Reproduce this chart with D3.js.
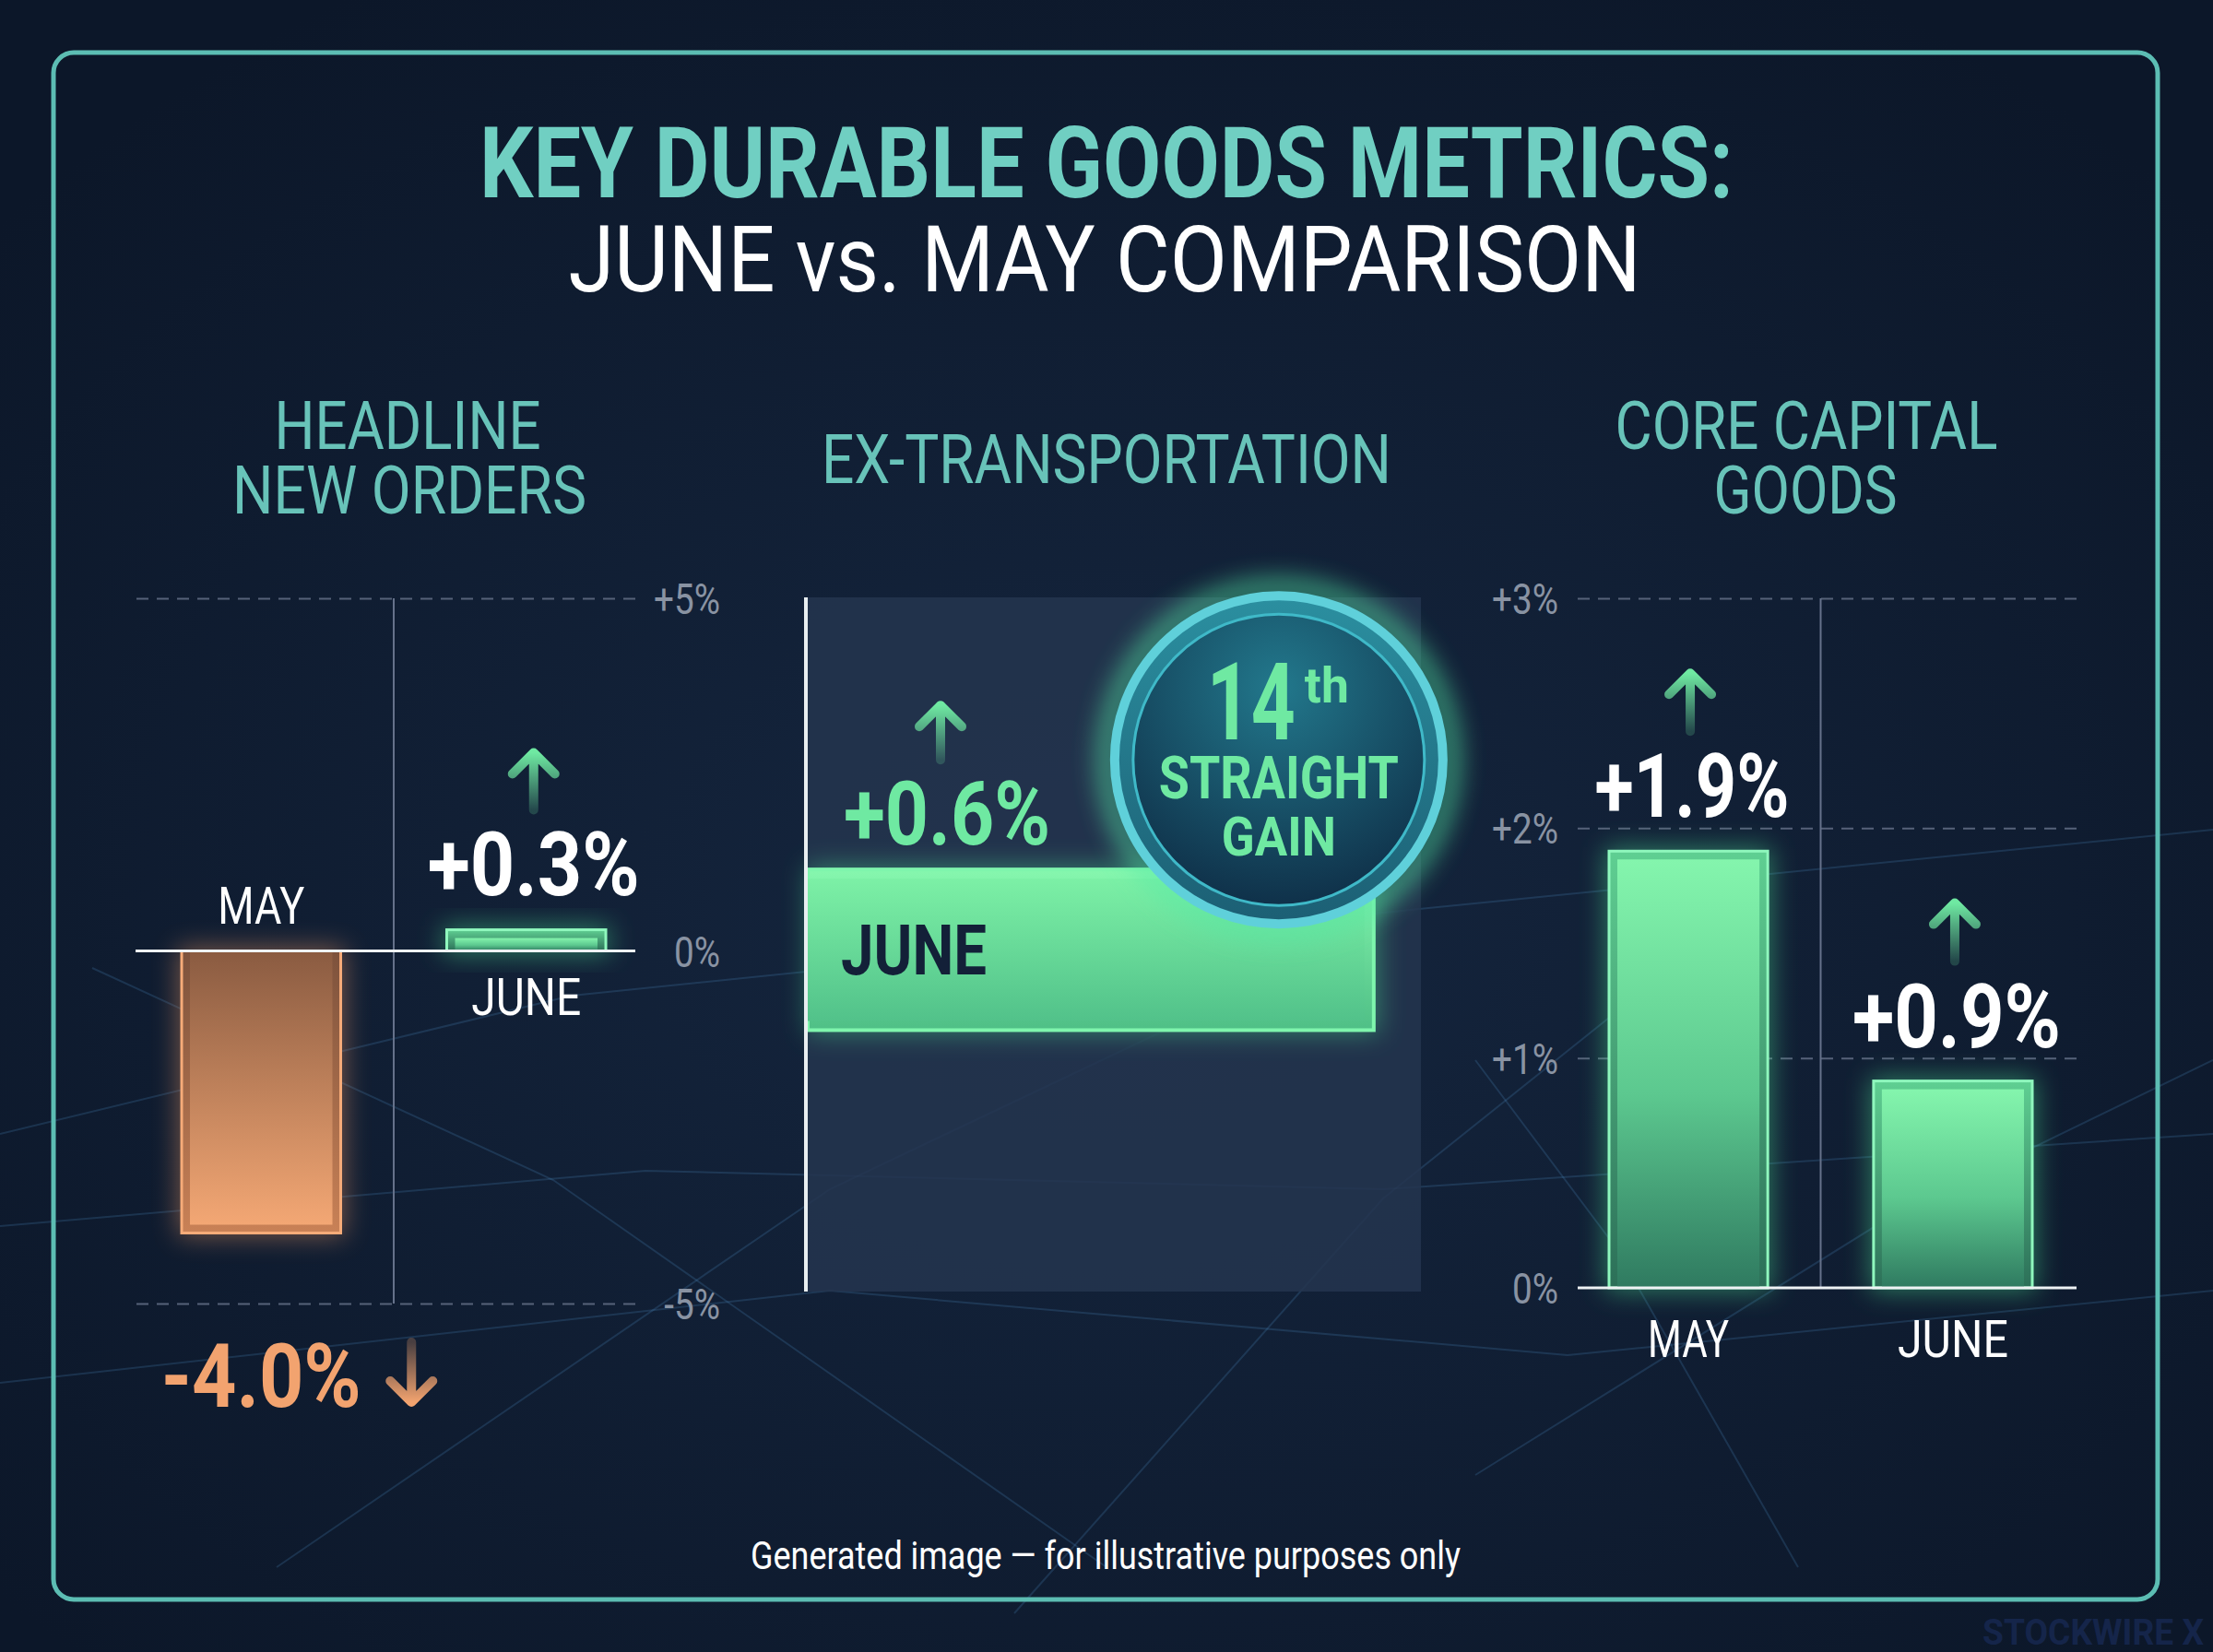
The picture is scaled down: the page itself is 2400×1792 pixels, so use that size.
<!DOCTYPE html>
<html>
<head>
<meta charset="utf-8">
<title>Key Durable Goods Metrics</title>
<script src="https://cdn.jsdelivr.net/npm/d3@7/dist/d3.min.js"></script>
<style>
  html, body { margin: 0; background: #0d1829; }
  svg { display: block; }
</style>
</head>
<body>
<svg id="chart" width="2400" height="1792"></svg>
<script>
// values
const months = ['MAY', 'JUNE']
const headlineValues = [-4.0, 0.3]
const exTransMonths = ['JUNE']
const exTransValues = [0.6]
const coreCapValues = [1.9, 0.9]
const headlineTicks = [5, 0, -5]
const coreCapTicks = [3, 2, 1, 0]
const streakCount = 14
const titleLines = ['KEY DURABLE GOODS METRICS:', 'JUNE vs. MAY COMPARISON']
const panelTitles = [['HEADLINE', 'NEW ORDERS'], ['EX-TRANSPORTATION'], ['CORE CAPITAL', 'GOODS']]
const footnote = 'Generated image \u2014 for illustrative purposes only'

const FONT = 'Roboto, "Noto Sans", "DejaVu Sans", sans-serif'
const fmtVal = v => d3.format('+.1f')(v).replace('\u2212', '-') + '%'
const fmtTick = v => (v > 0 ? '+' : '') + v + '%'

const svg = d3.select('#chart')
const defs = svg.append('defs')

function linGrad(id, stops, x2 = 0, y2 = 1) {
  const g = defs.append('linearGradient').attr('id', id)
    .attr('x1', 0).attr('y1', 0).attr('x2', x2).attr('y2', y2)
  stops.forEach(s => g.append('stop').attr('offset', s[0]).attr('stop-color', s[1]).attr('stop-opacity', s[2] ?? 1))
}
linGrad('greenOuter', [[0, '#5fcf92'], [1, '#2c6f58']])
linGrad('greenInner', [[0, '#84f5ad'], [0.55, '#5cc88f'], [1, '#2f7a60']])
linGrad('greenH', [[0, '#86f7ae'], [1, '#4fbf86']])
linGrad('greenHin', [[0, '#7cf0a6'], [1, '#52c28a']])
linGrad('orangeOuter', [[0, '#7d523c'], [1, '#c98156']])
linGrad('orangeInner', [[0, '#8a5b41'], [1, '#f3a774']])
linGrad('arrowUp', [[0, '#6fe9a2', 1], [1, '#6fe9a2', 0.2]])
linGrad('arrowDown', [[0, '#f2a36f', 0.25], [1, '#f2a36f', 1]])
linGrad('badgeBand', [[0, '#2b8fa0'], [1, '#1c5f74']])

const bf = defs.append('radialGradient').attr('id', 'badgeFill').attr('cx', '50%').attr('cy', '25%').attr('r', '80%')
bf.append('stop').attr('offset', 0).attr('stop-color', '#22788c')
bf.append('stop').attr('offset', 1).attr('stop-color', '#0e2c45')

const bg = defs.append('radialGradient').attr('id', 'bgFill').attr('cx', '50%').attr('cy', '55%').attr('r', '65%')
bg.append('stop').attr('offset', 0).attr('stop-color', '#15263f')
bg.append('stop').attr('offset', 1).attr('stop-color', '#0c1729')

defs.append('filter').attr('id', 'blur').attr('x', '-60%').attr('y', '-60%').attr('width', '220%').attr('height', '220%')
  .append('feGaussianBlur').attr('stdDeviation', 14)

function txt(g, s, x, y, size, fill, o = {}) {
  const t = g.append('text')
    .attr('x', x).attr('y', y)
    .attr('text-anchor', o.anchor || 'middle')
    .attr('font-family', FONT)
    .attr('font-size', size)
    .attr('font-weight', o.weight || 400)
    .attr('fill', fill)
    .text(s)
  if (o.w) t.attr('textLength', o.w).attr('lengthAdjust', 'spacingAndGlyphs')
  return t
}

function arrow(g, cx, top, bottom, up) {
  const d = up
    ? `M${cx},${bottom} L${cx},${top + 4} M${cx - 23},${top + 26} L${cx},${top + 3} L${cx + 23},${top + 26}`
    : `M${cx},${top} L${cx},${bottom - 4} M${cx - 23},${bottom - 26} L${cx},${bottom - 3} L${cx + 23},${bottom - 26}`
  g.append('path').attr('d', d)
    .attr('fill', 'none')
    .attr('stroke', up ? 'url(#arrowUp)' : 'url(#arrowDown)')
    .attr('stroke-width', 10)
    .attr('stroke-linecap', 'round')
    .attr('stroke-linejoin', 'round')
}

// vertical bar with a framed look; inset on the side away from the baseline
function vBar(g, x, yTop, w, h, kind, up) {
  const glow = kind === 'green' ? '#4fe896' : '#f29a62'
  g.append('rect').attr('x', x - 4).attr('y', yTop - 4).attr('width', w + 8).attr('height', h + 8)
    .attr('fill', glow).attr('opacity', 0.45).attr('filter', 'url(#blur)')
  g.append('rect').attr('x', x).attr('y', yTop).attr('width', w).attr('height', h)
    .attr('fill', kind === 'green' ? 'url(#greenOuter)' : 'url(#orangeOuter)')
    .attr('stroke', kind === 'green' ? '#8ff7bd' : '#f6ab79').attr('stroke-width', 3)
  const ins = 9
  g.append('rect').attr('x', x + ins).attr('y', up ? yTop + ins : yTop)
    .attr('width', w - 2 * ins).attr('height', Math.max(0, h - ins))
    .attr('fill', kind === 'green' ? 'url(#greenInner)' : 'url(#orangeInner)')
}

function styleAxis(a, lx) {
  a.select('.domain').remove()
  a.selectAll('.tick line')
    .attr('stroke', d => d === 0 ? 'none' : '#566279')
    .attr('stroke-width', 2)
    .attr('stroke-dasharray', '13 9')
  a.selectAll('.tick text')
    .attr('x', lx).attr('dy', '0.36em').attr('text-anchor', 'end')
    .attr('font-family', FONT).attr('font-size', 46).attr('fill', '#8993a3')
    .each(function () {
      const len = this.getComputedTextLength()
      d3.select(this).attr('textLength', len * 0.84).attr('lengthAdjust', 'spacingAndGlyphs')
    })
}

// background and frame
svg.append('rect').attr('width', 2400).attr('height', 1792).attr('fill', 'url(#bgFill)')

// faint network decoration behind the charts
const bgLines = [
  [[0, 1230], [620, 1080], [1400, 1000], [2400, 900]],
  [[0, 1330], [700, 1270], [1500, 1290], [2400, 1230]],
  [[0, 1500], [900, 1400], [1700, 1470], [2400, 1400]],
  [[300, 1700], [900, 1290], [1300, 1100]],
  [[1100, 1750], [1500, 1300], [1750, 1100]],
  [[1950, 1700], [1750, 1350], [1600, 1150]],
  [[2400, 1150], [2050, 1320], [1600, 1600]],
  [[100, 1050], [600, 1280], [1200, 1700]]
]
svg.append('g').selectAll('path').data(bgLines).join('path')
  .attr('d', d3.line())
  .attr('fill', 'none').attr('stroke', '#4d8fc4').attr('stroke-width', 2).attr('opacity', 0.22)

svg.append('rect').attr('x', 58).attr('y', 57).attr('width', 2282).attr('height', 1678).attr('rx', 22)
  .attr('fill', 'none').attr('stroke', '#5cbdb3').attr('stroke-width', 5)

// titles
txt(svg, titleLines[0], 1200, 214, 107, '#70cfc2', { weight: 700, w: 1360 })
txt(svg, titleLines[1], 1198, 316, 100, '#ffffff', { w: 1163 })

const subFill = '#68c3b9'
txt(svg, panelTitles[0][0], 442, 487, 72, subFill, { w: 289 })
txt(svg, panelTitles[0][1], 444, 557, 72, subFill, { w: 384 })
txt(svg, panelTitles[1][0], 1200, 524, 74, subFill, { w: 618 })
txt(svg, panelTitles[2][0], 1959, 487, 72, subFill, { w: 415 })
txt(svg, panelTitles[2][1], 1958, 557, 72, subFill, { w: 199 })

// ---------- panel 1: headline new orders ----------
const p1 = svg.append('g')
const y1 = d3.scaleLinear().domain([-5, 5]).range([1414, 649])
const x1 = d3.scaleBand().domain(months).range([197, 657]).paddingInner(0.4)
const grid1 = [147, 689]

p1.append('g').attr('transform', `translate(${grid1[1]},0)`)
  .call(d3.axisRight(y1).tickValues(headlineTicks).tickFormat(fmtTick).tickSize(-(grid1[1] - grid1[0])))
  .call(styleAxis, 92)

const sep1 = x1('MAY') + x1.bandwidth() + (x1.step() - x1.bandwidth()) / 2
p1.append('line').attr('x1', sep1).attr('x2', sep1).attr('y1', y1(5)).attr('y2', y1(-5))
  .attr('stroke', '#65718a').attr('stroke-width', 2)

const d1 = months.map((m, i) => ({ m, v: headlineValues[i] }))
d1.forEach(d => {
  const up = d.v >= 0
  const top = y1(Math.max(0, d.v)), bot = y1(Math.min(0, d.v))
  vBar(p1, x1(d.m), top, x1.bandwidth(), bot - top, up ? 'green' : 'orange', up)
})

p1.append('line').attr('x1', grid1[0]).attr('x2', grid1[1]).attr('y1', y1(0)).attr('y2', y1(0))
  .attr('stroke', '#eef2f4').attr('stroke-width', 3)

d1.forEach(d => {
  const cx = x1(d.m) + x1.bandwidth() / 2
  if (d.v >= 0) {
    txt(p1, d.m, cx, y1(0) + 69, 56, '#ffffff', { w: 119 })
    const base = y1(d.v) - 38
    txt(p1, fmtVal(d.v), cx + 8, base, 97, '#ffffff', { weight: 700, w: 230 })
    arrow(p1, cx + 8, base - 157, base - 92, true)
  } else {
    txt(p1, d.m, cx, y1(0) - 30, 56, '#ffffff', { w: 94 })
    const base = y1(-5) + 112
    txt(p1, fmtVal(d.v), cx, base, 97, '#f2a36f', { weight: 700, w: 217 })
    arrow(p1, cx + 163, base - 70, base - 2, false)
  }
})

// ---------- panel 2: ex-transportation ----------
const p2 = svg.append('g')
const x2 = d3.scaleLinear().domain([0, 0.65]).range([876, 1541])
const y2 = d3.scaleBand().domain(exTransMonths).range([648, 1401]).paddingOuter(1.66).align(0.51)

p2.append('rect').attr('x', x2(0) - 1).attr('y', 648).attr('width', x2(0.65) - x2(0) + 1).attr('height', 1401 - 648)
  .attr('fill', '#24354f').attr('opacity', 0.85)

exTransMonths.forEach((m, i) => {
  const v = exTransValues[i]
  const by = y2(m), bh = y2.bandwidth(), bx = x2(0), bw = x2(v) - x2(0)
  p2.append('rect').attr('x', bx).attr('y', by - 4).attr('width', bw + 6).attr('height', bh + 8)
    .attr('fill', '#4fe896').attr('opacity', 0.4).attr('filter', 'url(#blur)')
  p2.append('rect').attr('x', bx).attr('y', by).attr('width', bw).attr('height', bh)
    .attr('fill', 'url(#greenH)').attr('stroke', '#7ff5ad').attr('stroke-width', 4)
  p2.append('rect').attr('x', bx).attr('y', by + 10).attr('width', bw - 10).attr('height', bh - 20)
    .attr('fill', 'url(#greenHin)')
  txt(p2, m, bx + 36, by + bh / 2 + 27, 76, '#132038', { anchor: 'start', weight: 700, w: 158 })

  const base = by - 27
  txt(p2, fmtVal(v), bx + 151, base, 97, '#6fe9a2', { weight: 700, w: 224 })
  arrow(p2, bx + 144, base - 154, base - 92, true)

  // streak badge
  const cx = x2(v) - 103, cy = by - 119
  const b = p2.append('g').attr('transform', `translate(${cx},${cy})`)
  b.append('circle').attr('r', 186).attr('fill', 'none').attr('stroke', '#55eaa6').attr('stroke-width', 18)
    .attr('opacity', 0.75).attr('filter', 'url(#blur)')
  b.append('circle').attr('r', 178).attr('fill', 'url(#badgeBand)').attr('stroke', '#5fd0da').attr('stroke-width', 10)
  b.append('circle').attr('r', 158).attr('fill', 'url(#badgeFill)').attr('stroke', '#3fb9c8').attr('stroke-width', 3)
  txt(b, String(streakCount), 18, -22, 116, '#6fe9a2', { anchor: 'end', weight: 700, w: 96 })
  txt(b, 'th', 28, -62, 54, '#6fe9a2', { anchor: 'start', weight: 700, w: 48 })
  txt(b, 'STRAIGHT', 0, 42, 64, '#6fe9a2', { weight: 700, w: 260 })
  txt(b, 'GAIN', 0, 104, 60, '#6fe9a2', { weight: 700, w: 124 })
})

p2.append('line').attr('x1', x2(0) - 2).attr('x2', x2(0) - 2).attr('y1', 648).attr('y2', 1401)
  .attr('stroke', '#e8eef0').attr('stroke-width', 4)

// ---------- panel 3: core capital goods ----------
const p3 = svg.append('g')
const y3 = d3.scaleLinear().domain([0, 3]).range([1397, 649])
const x3 = d3.scaleBand().domain(months).range([1745, 2204]).paddingInner(0.4)
const grid3 = [1711, 2252]

p3.append('g').attr('transform', `translate(${grid3[0]},0)`)
  .call(d3.axisLeft(y3).tickValues(coreCapTicks).tickFormat(fmtTick).tickSize(-(grid3[1] - grid3[0])))
  .call(styleAxis, -21)

const sep3 = x3('MAY') + x3.bandwidth() + (x3.step() - x3.bandwidth()) / 2
p3.append('line').attr('x1', sep3).attr('x2', sep3).attr('y1', y3(3)).attr('y2', y3(0))
  .attr('stroke', '#65718a').attr('stroke-width', 2)

const d3data = months.map((m, i) => ({ m, v: coreCapValues[i] }))
d3data.forEach(d => {
  vBar(p3, x3(d.m), y3(d.v), x3.bandwidth(), y3(0) - y3(d.v), 'green', true)
})

p3.append('line').attr('x1', grid3[0]).attr('x2', grid3[1]).attr('y1', y3(0)).attr('y2', y3(0))
  .attr('stroke', '#eef2f4').attr('stroke-width', 3)

const monthW3 = { MAY: 88, JUNE: 120 }
d3data.forEach(d => {
  const cx = x3(d.m) + x3.bandwidth() / 2
  txt(p3, d.m, cx, y3(0) + 75, 56, '#ffffff', { w: monthW3[d.m] })
  const base = y3(d.v) - 37
  txt(p3, fmtVal(d.v), cx + 4, base, 97, '#ffffff', { weight: 700, w: d.m === 'MAY' ? 211 : 226 })
  arrow(p3, cx + 2, base - 159, base - 93, true)
})

// footer
txt(svg, footnote, 1199, 1702, 42, '#ffffff', { w: 770 })
txt(svg, 'STOCKWIRE X', 2150, 1784, 38, '#15254a', { anchor: 'start', weight: 700, w: 240 })
</script>
</body>
</html>
